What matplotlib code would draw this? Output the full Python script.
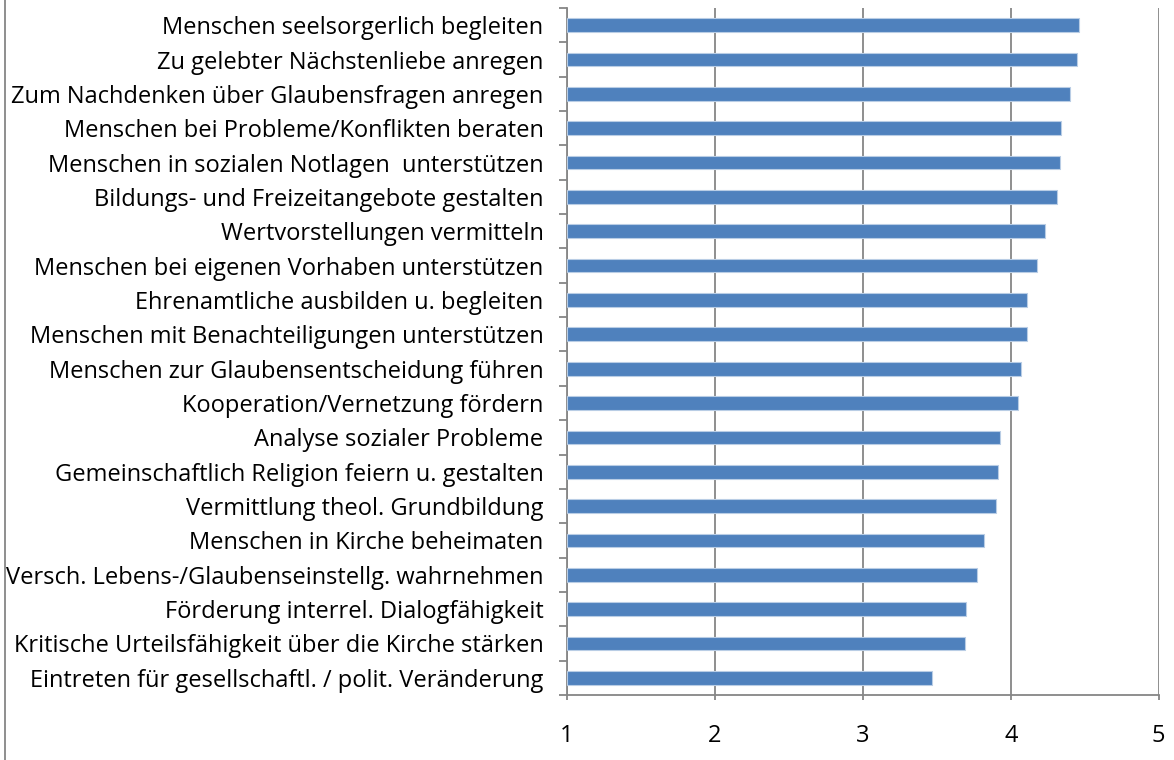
import matplotlib.pyplot as plt
import numpy as np

# Aufgaben, von oben nach unten
labels = [
    "Menschen seelsorgerlich begleiten",
    "Zu gelebter Nächstenliebe anregen",
    "Zum Nachdenken über Glaubensfragen anregen",
    "Menschen bei Probleme/Konflikten beraten",
    "Menschen in sozialen Notlagen  unterstützen",
    "Bildungs- und Freizeitangebote gestalten",
    "Wertvorstellungen vermitteln",
    "Menschen bei eigenen Vorhaben unterstützen",
    "Ehrenamtliche ausbilden u. begleiten",
    "Menschen mit Benachteiligungen unterstützen",
    "Menschen zur Glaubensentscheidung führen",
    "Kooperation/Vernetzung fördern",
    "Analyse sozialer Probleme",
    "Gemeinschaftlich Religion feiern u. gestalten",
    "Vermittlung theol. Grundbildung",
    "Menschen in Kirche beheimaten",
    "Versch. Lebens-/Glaubenseinstellg. wahrnehmen",
    "Förderung interrel. Dialogfähigkeit",
    "Kritische Urteilsfähigkeit über die Kirche stärken",
    "Eintreten für gesellschaftl. / polit. Veränderung",
]
values = [4.46, 4.45, 4.40, 4.34, 4.33, 4.31, 4.23, 4.18, 4.11, 4.11,
          4.07, 4.05, 3.93, 3.91, 3.90, 3.82, 3.77, 3.70, 3.69, 3.47]
xticks = [1, 2, 3, 4, 5]

plt.rcParams['font.family'] = ['Open Sans', 'DejaVu Sans']

fig = plt.figure(figsize=(11.74, 7.6), dpi=100)
ax = fig.add_axes([0.483, 0.0855, 0.504, 0.904])

n = len(labels)
pos = np.arange(n)
ax.barh(pos, np.array(values) - 1, left=1, height=0.4, color='#4F81BD',
        edgecolor='#B9CDE5', linewidth=0.8, zorder=3)

ax.set_xlim(1, 5)
ax.set_ylim(n - 0.5, -0.5)
ax.set_xticks(xticks)
ax.set_xticklabels([str(t) for t in xticks], fontsize=17)
ax.xaxis.grid(True, color='#868686', linewidth=1.3, zorder=0)

ax.set_yticks(pos)
ax.set_yticklabels(labels, fontsize=17)
ax.set_yticks(np.arange(n + 1) - 0.5, minor=True)
ax.tick_params(axis='y', which='major', length=0, pad=17)
ax.tick_params(axis='y', which='minor', length=5.8, width=1.3, color='#868686', direction='out')
ax.tick_params(axis='x', which='major', length=3.6, width=1.3, color='#868686', pad=17)

for s in ['top', 'right']:
    ax.spines[s].set_visible(False)
for s in ['left', 'bottom']:
    ax.spines[s].set_color('#868686')
    ax.spines[s].set_linewidth(1.3)

# Rahmen links
fig.add_artist(plt.Line2D([5 / 1174, 5 / 1174], [0, 1], color='#868686', linewidth=1.3))

fig.savefig('out.png', dpi=100)
